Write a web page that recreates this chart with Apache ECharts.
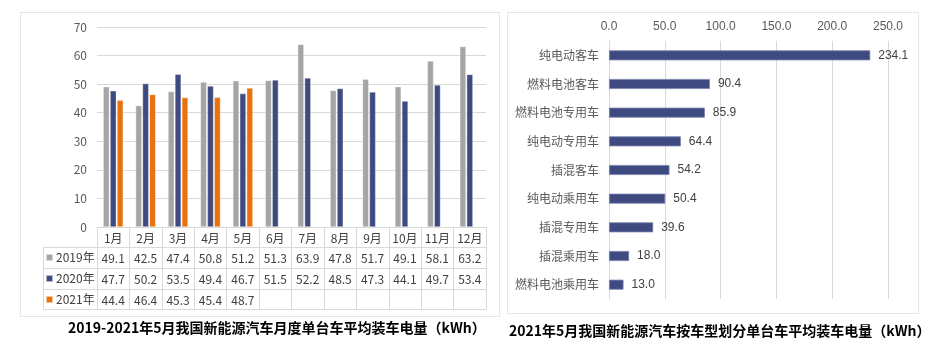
<!DOCTYPE html>
<html><head><meta charset="utf-8">
<script src="https://cdn.jsdelivr.net/npm/echarts@6/dist/echarts.min.js"></script>
<style>html,body{margin:0;padding:0;background:#fff}#c{width:944px;height:355px}</style>
</head><body><div id="c"></div>
<script>
const months = ['1月','2月','3月','4月','5月','6月','7月','8月','9月','10月','11月','12月'];
const years = ['2019年','2020年','2021年'];
const v2019 = [49.1,42.5,47.4,50.8,51.2,51.3,63.9,47.8,51.7,49.1,58.1,63.2];
const v2020 = [47.7,50.2,53.5,49.4,46.7,51.5,52.2,48.5,47.3,44.1,49.7,53.4];
const v2021 = [44.4,46.4,45.3,45.4,48.7,null,null,null,null,null,null,null];
const leftTicks = [0,10,20,30,40,50,60,70];
const types = ['纯电动客车','燃料电池客车','燃料电池专用车','纯电动专用车','插混客车','纯电动乘用车','插混专用车','插混乘用车','燃料电池乘用车'];
const typeValues = [234.1,90.4,85.9,64.4,54.2,50.4,39.6,18.0,13.0];
const rightTicks = [0,50,100,150,200,250];
const titleLeft = '2019-2021年5月我国新能源汽车月度单台车平均装车电量（kWh）';
const titleRight = '2021年5月我国新能源汽车按车型划分单台车平均装车电量（kWh）';
const colors = ['#a5a5a5','#3f4b80','#e8720e'];

const CJK = '"Noto Sans CJK SC", sans-serif';
const ARIAL = '"Liberation Sans", Arial, sans-serif';
const lineC = '#d9d9d9';
const fmt = v => (v === null || v === undefined || v === '') ? '' : Number(v).toFixed(1);

const tableRows = [v2019, v2020, v2021];
const xAxes = [{
  type:'category', gridIndex:0, data:months, position:'bottom',
  axisLine:{lineStyle:{color:lineC}},
  axisTick:{show:true, interval:0, length:82, lineStyle:{color:lineC}},
  axisLabel:{interval:0, margin:5, fontSize:12, color:'#404040', fontFamily:CJK}
}];
const offsets = [20, 41, 62];
tableRows.forEach((row, i) => {
  xAxes.push({
    type:'category', gridIndex:0, position:'bottom', offset:offsets[i],
    data: row.map(fmt),
    axisLine:{show:true, lineStyle:{color:lineC}},
    axisTick:{show:false},
    axisLabel:{interval:0, margin:5, fontSize:12, color:'#404040', fontFamily:CJK}
  });
});
xAxes.push({
  type:'category', gridIndex:0, position:'bottom', offset:82, data: months.map(()=>''),
  axisLine:{show:true, lineStyle:{color:lineC}}, axisTick:{show:false}, axisLabel:{show:false}
});
xAxes.push({
  type:'value', gridIndex:1, position:'top', min:rightTicks[0], max:rightTicks[rightTicks.length-1], interval:50,
  axisLine:{show:false}, axisTick:{show:false},
  splitLine:{show:true, lineStyle:{color:lineC}},
  axisLabel:{margin:8, fontSize:12, color:'#595959', fontFamily:ARIAL, formatter: v => v.toFixed(1)}
});

const option = {
  animation:false,
  backgroundColor:'#fff',
  color: colors,
  title:[
    {text:titleLeft, left:63, top:316, textStyle:{fontSize:14, fontWeight:'bold', color:'#000', fontFamily:CJK}},
    {text:titleRight, left:504, top:319, textStyle:{fontSize:14, fontWeight:'bold', color:'#000', fontFamily:CJK}}
  ],
  legend:{
    orient:'vertical', left:45, top:247, padding:0, itemGap:0,
    itemWidth:7, itemHeight:7, icon:'rect',
    data: years,
    textStyle:{fontSize:12, color:'#404040', fontFamily:CJK, lineHeight:21, padding:[0,0,0,-2]},
    selectedMode:false
  },
  grid:[
    {left:97, right:458, top:27, bottom:128},
    {left:609, right:56, top:41, bottom:56}
  ],
  xAxis: xAxes,
  yAxis:[
    {type:'value', gridIndex:0, min:leftTicks[0], max:leftTicks[leftTicks.length-1], interval:10,
     axisLine:{show:false}, axisTick:{show:false},
     splitLine:{lineStyle:{color:lineC}},
     axisLabel:{margin:10, fontSize:12, color:'#595959', fontFamily:CJK}},
    {type:'category', gridIndex:1, data:types, inverse:true,
     axisLine:{show:true, lineStyle:{color:lineC}}, axisTick:{show:false},
     axisLabel:{interval:0, margin:10, fontSize:12, color:'#595959', fontFamily:CJK}}
  ],
  series:[
    {name:years[0], type:'bar', xAxisIndex:0, yAxisIndex:0, data:v2019, barGap:'10%', barCategoryGap:'38%',
     itemStyle:{color:colors[0], borderColor:'rgba(255,255,255,0.6)', borderWidth:0.6}},
    {name:years[1], type:'bar', xAxisIndex:0, yAxisIndex:0, data:v2020, barGap:'10%', barCategoryGap:'38%',
     itemStyle:{color:colors[1], borderColor:'rgba(255,255,255,0.6)', borderWidth:0.6}},
    {name:years[2], type:'bar', xAxisIndex:0, yAxisIndex:0, data:v2021, barGap:'10%', barCategoryGap:'38%',
     itemStyle:{color:colors[2], borderColor:'rgba(255,255,255,0.6)', borderWidth:0.6}},
    {name:'按车型', type:'bar', xAxisIndex:xAxes.length-1, yAxisIndex:1, data:typeValues, barWidth:10,
     itemStyle:{color:'#3f4b80', borderColor:'#7a82ad', borderWidth:0.8},
     label:{show:true, position:'right', distance:8, fontSize:12, color:'#404040', fontFamily:ARIAL, formatter: p => p.value.toFixed(1)}}
  ],
  graphic:[
    {type:'rect', shape:{x:20.5, y:12.5, width:479, height:304}, style:{fill:null, stroke:'#e6e6e6', lineWidth:1}, silent:true},
    {type:'rect', shape:{x:507.5, y:12.5, width:411, height:301}, style:{fill:null, stroke:'#e6e6e6', lineWidth:1}, silent:true},
    {type:'line', shape:{x1:43.5, y1:247.5, x2:43.5, y2:309.5}, style:{stroke:lineC, lineWidth:1}, silent:true},
    {type:'line', shape:{x1:43.5, y1:247.5, x2:97, y2:247.5}, style:{stroke:lineC, lineWidth:1}, silent:true},
    {type:'line', shape:{x1:43.5, y1:268.5, x2:97, y2:268.5}, style:{stroke:lineC, lineWidth:1}, silent:true},
    {type:'line', shape:{x1:43.5, y1:289.5, x2:97, y2:289.5}, style:{stroke:lineC, lineWidth:1}, silent:true},
    {type:'line', shape:{x1:43.5, y1:309.5, x2:97, y2:309.5}, style:{stroke:lineC, lineWidth:1}, silent:true}
  ]
};
const chart = echarts.init(document.getElementById('c'), null, {renderer:'canvas'});
chart.setOption(option);
</script>
</body></html>
